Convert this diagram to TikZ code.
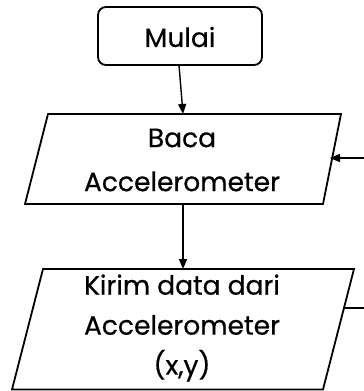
\documentclass[tikz,border=0pt]{standalone}
\usepackage{fontspec}
\setmainfont{Poppins}[FakeBold=0.6]
\usetikzlibrary{arrows.meta}
\begin{document}
\begin{tikzpicture}[x=1pt,y=-1pt,
  line/.style={line width=1.8pt},
  arr/.style={line width=1.4pt, -{Triangle[length=10pt,width=8pt]}},
  txt/.style={align=center, inner sep=0pt, font=\fontsize{26.5}{44}\selectfont}]
\useasboundingbox (0,0) rectangle (364,391);
% Mulai
\draw[line, rounded corners=8pt] (98,7) rectangle (262,65);
\node[txt] (mulai) at (180,37) {Mulai};
\coordinate (mulaiout) at (179,65);
% Baca
\coordinate (b1) at (48,114);
\coordinate (b2) at (341,114);
\coordinate (b3) at (323,204);
\coordinate (b4) at (25,204);
\draw[line] (b1) -- (b2) -- (b3) -- (b4) -- cycle;
\node[txt] (baca) at (182,160) {Baca\\Accelerometer};
\coordinate (bacain) at (183,114);
\coordinate (bacaout) at (183,204);
\coordinate (bacaright) at (330,158);
\coordinate (loopin) at (364,158);
% Kirim
\coordinate (k1) at (43,269);
\coordinate (k2) at (354,269);
\coordinate (k3) at (323,389.5);
\coordinate (k4) at (12,389.5);
\draw[line] (k1) -- (k2) -- (k3) -- (k4) -- cycle;
\node[txt, font=\fontsize{26.5}{40}\selectfont] (kirim) at (182,328) {Kirim data dari\\Accelerometer\\(x,y)};
\coordinate (kirimin) at (183,269);
\coordinate (kirimright) at (344,308);
\coordinate (loopout) at (364,308);
% connectors
\draw[arr] (mulaiout) -- (bacain);
\draw[arr] (bacaout) -- (kirimin);
\draw[arr] (loopin) -- (bacaright);
\draw[line] (kirimright) -- (loopout);
\end{tikzpicture}
\end{document}
